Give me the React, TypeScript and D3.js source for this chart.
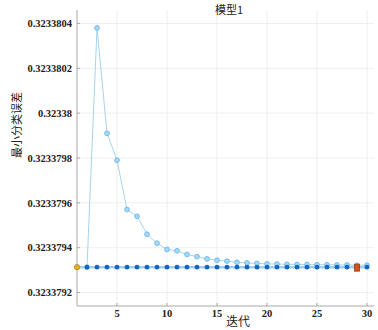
import React from "react";
import * as d3 from "d3";

// iterations 1..30
const iterations = d3.range(1, 31);

// light blue: observed minimum objective
const observed = [
  0.323379313, 0.323379313, 0.32338038, 0.32337991, 0.32337979, 0.32337957,
  0.32337954, 0.32337946, 0.32337942, 0.323379392, 0.323379386, 0.32337937,
  0.32337936, 0.32337935, 0.323379344, 0.32337934, 0.323379335, 0.323379332,
  0.32337933, 0.323379328, 0.323379327, 0.323379326, 0.323379325, 0.323379325,
  0.323379324, 0.323379324, 0.323379323, 0.323379323, 0.323379322, 0.323379322,
];

// dark blue: estimated minimum objective
const estimated = iterations.map(() => 0.323379313);

const yTicks = [0.3233792, 0.3233794, 0.3233796, 0.3233798, 0.32338, 0.3233802, 0.3233804];
const xTicks = [5, 10, 15, 20, 25, 30];

const firstPoint = { x: 1, y: 0.323379313 };
const bestPoint = { x: 29, y: 0.323379311 };

export default function App() {
  const W = 378, H = 330;
  const left = 77, right = 374, top = 10, bottom = 306;

  const x = d3.scaleLinear().domain([1, 30.7]).range([left, right]);
  const y = d3.scaleLinear().domain([0.32337914, 0.32338046]).range([bottom, top]);

  const line = d3.line<number>()
    .x((_, i) => x(iterations[i]))
    .y(d => y(d));

  const serif = "Liberation Serif";
  const cjk = "Noto Sans CJK SC";

  return (
    <svg width={W} height={H} style={{ position: "fixed", left: 0, top: 0, background: "#fff" }}>
      {/* grid */}
      {yTicks.map(t => (
        <line key={"gy" + t} x1={left} x2={right} y1={y(t)} y2={y(t)} stroke="#efefef" strokeWidth={1} />
      ))}
      {xTicks.map(t => (
        <line key={"gx" + t} x1={x(t)} x2={x(t)} y1={top} y2={bottom} stroke="#efefef" strokeWidth={1} />
      ))}

      {/* axes */}
      <line x1={left} x2={left} y1={top} y2={bottom} stroke="#a8a8a8" strokeWidth={1} />
      <line x1={left} x2={right} y1={bottom} y2={bottom} stroke="#a8a8a8" strokeWidth={1} />
      {yTicks.map(t => (
        <g key={"ty" + t}>
          <line x1={left} x2={left + 3} y1={y(t)} y2={y(t)} stroke="#a8a8a8" />
          <text x={left - 5} y={y(t)} dy="0.35em" textAnchor="end" fontFamily={serif}
            fontWeight="bold" fontSize={10.5} fill="#222">{String(+t.toFixed(7))}</text>
        </g>
      ))}
      {xTicks.map(t => (
        <g key={"tx" + t}>
          <line x1={x(t)} x2={x(t)} y1={bottom} y2={bottom - 3} stroke="#a8a8a8" />
          <text x={x(t)} y={bottom + 11} textAnchor="middle" fontFamily={serif}
            fontWeight="bold" fontSize={10.5} fill="#222">{t}</text>
        </g>
      ))}

      {/* observed */}
      <path d={line(observed) ?? ""} fill="none" stroke="#a9d3f0" strokeWidth={1} />
      {observed.map((v, i) => (
        <circle key={"o" + i} cx={x(iterations[i])} cy={y(v)} r={2.4} fill="#a6d8f8" stroke="#62b2ea" strokeWidth={0.8} />
      ))}

      {/* estimated */}
      <path d={line(estimated) ?? ""} fill="none" stroke="#a2cfef" strokeWidth={2.5} />
      {estimated.map((v, i) => i === 0 ? null : (
        <circle key={"e" + i} cx={x(iterations[i])} cy={y(v)} r={2.4} fill="#1467c0" />
      ))}

      <circle cx={x(firstPoint.x)} cy={y(firstPoint.y)} r={2.6} fill="#edb120" stroke="#b88410" strokeWidth={0.8} />
      <rect x={x(bestPoint.x) - 2.5} y={y(bestPoint.y) - 3.5} width={5} height={7}
        fill="#d95319" stroke="#9a3a10" strokeWidth={0.8} />

      {/* labels */}
      <text x={229} y={10} dy="0.35em" textAnchor="middle" fontFamily={cjk} fontSize={11} fill="#222">模型1</text>
      <text x={238} y={322} dy="0.35em" textAnchor="middle" fontFamily={cjk} fontSize={12} fill="#222">迭代</text>
      <text transform="translate(17,125) rotate(-90)" dy="0.35em" textAnchor="middle" fontFamily={cjk}
        fontSize={11} fill="#222">最小分类误差</text>
    </svg>
  );
}
